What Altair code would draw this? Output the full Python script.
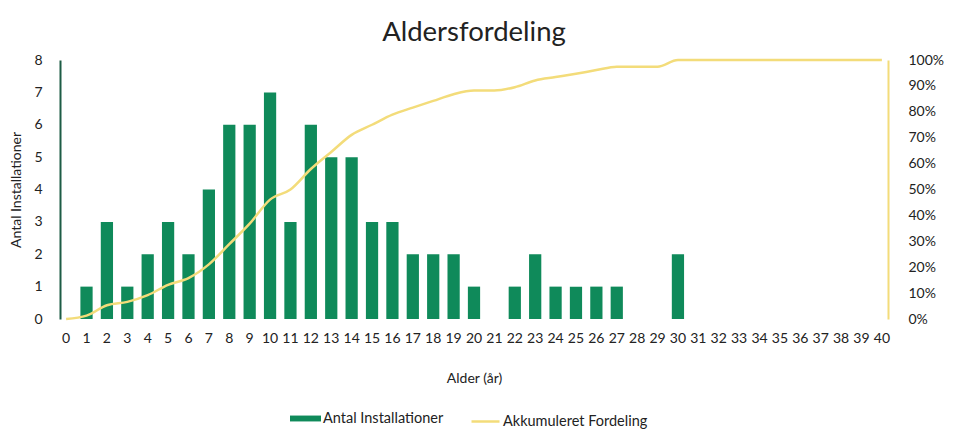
import altair as alt
import pandas as pd

ages = list(range(0, 41))
counts = [0, 1, 3, 1, 2, 3, 2, 4, 6, 6, 7, 3, 6, 5, 5, 3, 3, 2, 2, 2,
          1, 0, 1, 2, 1, 1, 1, 1, 0, 0, 2, 0, 0, 0, 0, 0, 0, 0, 0, 0, 0]
cum_pct = [0.0, 0.013, 0.053, 0.066, 0.092, 0.132, 0.158, 0.211, 0.289, 0.368,
           0.461, 0.50, 0.579, 0.645, 0.711, 0.75, 0.789, 0.816, 0.842, 0.868,
           0.882, 0.882, 0.895, 0.921, 0.934, 0.947, 0.961, 0.974, 0.974, 0.974,
           1.0, 1.0, 1.0, 1.0, 1.0, 1.0, 1.0, 1.0, 1.0, 1.0, 1.0]
bar_name = "Antal Installationer"
line_name = "Akkumuleret Fordeling"

GREEN = "#0f8a5a"
YELLOW = "#f3dc7a"
FONT = "Lato"

df = pd.DataFrame({"age": ages, "count": counts, "cum": cum_pct,
                   "s1": bar_name, "s2": line_name})

x_enc = alt.X("age:O", sort=ages,
              scale=alt.Scale(paddingInner=0.4, paddingOuter=0.0),
              axis=alt.Axis(title="Alder (år)", labelAngle=0, domain=False, ticks=False,
                            labelPadding=12, labelFontSize=14, labelColor="#222",
                            titleFontSize=14, titleFontWeight="normal", titleColor="#222",
                            titlePadding=26, labelFont=FONT, titleFont=FONT))

bars = alt.Chart(df).mark_bar(color=GREEN).encode(
    x=x_enc,
    y=alt.Y("count:Q", scale=alt.Scale(domain=[0, 8]),
            axis=alt.Axis(title="Antal Installationer", values=list(range(9)), grid=False,
                          domainColor="#1d5c45", domainWidth=2, ticks=False,
                          labelPadding=18, labelFontSize=14, labelColor="#222",
                          titleFontSize=14, titleFontWeight="normal", titleColor="#222",
                          titlePadding=10, labelFont=FONT, titleFont=FONT)),
    color=alt.Color("s1:N", scale=alt.Scale(domain=[bar_name], range=[GREEN]),
                    legend=alt.Legend(title=None, orient="none", legendX=230, legendY=343,
                                      symbolType="M-1,-0.19H1V0.19H-1Z", symbolSize=961,
                                      symbolStrokeWidth=0, labelFontSize=14.5, labelColor="#222",
                                      labelFont=FONT, labelOffset=2)),
)

line = alt.Chart(df).mark_line(color=YELLOW, strokeWidth=2.5, interpolate="monotone").encode(
    x=x_enc,
    y=alt.Y("cum:Q", scale=alt.Scale(domain=[0, 1]),
            axis=alt.Axis(title=None, orient="right", format="%", values=[i / 10 for i in range(11)],
                          grid=False, domainColor=YELLOW, domainWidth=2, ticks=False,
                          labelPadding=20, labelFontSize=14, labelColor="#222", labelFont=FONT)),
    color=alt.Color("s2:N", scale=alt.Scale(domain=[line_name], range=[YELLOW]),
                    legend=alt.Legend(title=None, orient="none", legendX=410, legendY=346,
                                      symbolType="stroke", symbolSize=784, symbolStrokeWidth=2.5,
                                      labelFontSize=14.5, labelColor="#222", labelFont=FONT,
                                      labelOffset=2)),
)

chart = alt.layer(bars, line).resolve_scale(y="independent", color="independent").properties(
    width=828, height=259,
    title=alt.TitleParams("Aldersfordeling", fontSize=27.5, fontWeight="normal", color="#222",
                          font=FONT, anchor="middle", offset=7),
    autosize=alt.AutoSizeParams(type="none"),
    padding={"left": 52, "top": 52, "right": 57, "bottom": 112},
).configure_view(stroke=None)

chart.save("out.html", embed_options={"renderer": "svg", "actions": False})
